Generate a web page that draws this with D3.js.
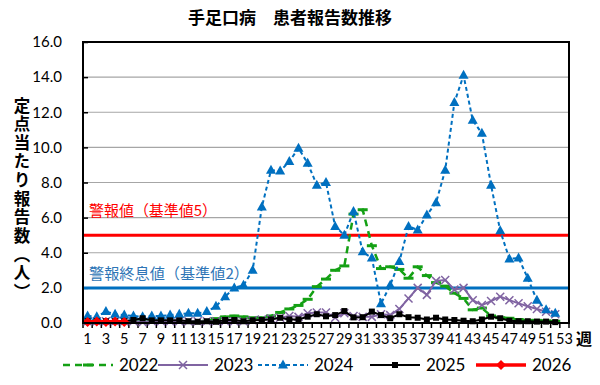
<!DOCTYPE html>
<html>
<head>
<meta charset="utf-8">
<script src="https://cdn.jsdelivr.net/npm/d3@7"></script>
<style>
  body { margin: 0; background: #fff; }
  svg { display: block; }
</style>
</head>
<body>
<svg id="chart" width="600" height="385"></svg>
<script>
// Weekly values (per sentinel site).
var weeks = d3.range(1, 54);
var weekLabels = weeks.filter(function(w) { return w % 2 === 1; });
var yTicks = [0, 2, 4, 6, 8, 10, 12, 14, 16];

var v2022 = [0.05,0.05,0.05,0.05,0.05,0.05,0.05,0.05,0.05,0.05,0.05,0.05,0.08,0.1,0.25,0.35,0.4,0.35,0.3,0.3,
             0.4,0.6,0.8,1.0,1.35,2.07,2.5,3.0,3.25,6.2,6.45,4.4,3.1,3.2,3.05,2.55,3.2,2.7,2.3,2.1,
             1.7,1.4,0.75,0.85,0.4,0.3,0.27,0.2,0.15,0.15,0.12,0.1];
var v2023 = [0.1,0.1,0.1,0.1,0.1,0.1,0.05,0.1,0.1,0.1,0.1,0.1,0.1,0.1,0.1,0.1,0.1,0.1,0.15,0.2,
             0.25,0.3,0.4,0.35,0.55,0.6,0.6,0.3,0.55,0.4,0.35,0.35,0.5,0.45,0.8,1.4,2.0,1.6,2.4,2.45,
             1.9,2.0,1.3,1.02,1.25,1.5,1.3,1.12,0.95,0.8,0.64,0.5];
var v2024 = [0.4,0.35,0.65,0.5,0.45,0.4,0.35,0.4,0.4,0.45,0.5,0.55,0.55,0.65,0.95,1.5,2.0,2.15,3.0,6.6,
             8.7,8.65,9.2,9.95,9.1,7.85,8.0,5.5,5.0,6.35,4.05,3.7,1.1,2.15,3.5,5.5,5.3,6.15,6.85,8.7,
             12.55,14.1,11.55,10.8,7.85,5.25,3.65,3.7,2.55,1.3,0.75,0.55];
var v2025 = [0.1,0.1,0.1,0.1,0.1,0.17,0.27,0.15,0.15,0.15,0.15,0.1,0.07,0.1,0.07,0.17,0.17,0.1,0.15,0.17,
             0.2,0.3,0.2,0.2,0.36,0.5,0.38,0.45,0.68,0.32,0.33,0.65,0.45,0.27,0.5,0.33,0.3,0.2,0.3,0.2,
             0.17,0.13,0.1,0.2,0.36,0.27,0.13,0.1,0.1,0.08,0.08,0.05];
var v2026 = [0.05,0.08,0.06,0.08,0.06];

var alarmLevel = 5;
var endLevel = 2;

var series = [
  { name: '2022', values: v2022, color: '#14a014', width: 2.5, dash: '7,5', marker: 'dash' },
  { name: '2023', values: v2023, color: '#8064a2', width: 2, dash: null, marker: 'cross' },
  { name: '2024', values: v2024, color: '#0070c0', width: 2, dash: '4,3', marker: 'triangle' },
  { name: '2025', values: v2025, color: '#000000', width: 2, dash: null, marker: 'square' },
  { name: '2026', values: v2026, color: '#ff0000', width: 3.5, dash: null, marker: 'diamond' }
];

var numFont = 'Lato, "Noto Sans CJK JP", sans-serif';
var jpFont = '"Noto Sans CJK JP", sans-serif';

var svg = d3.select('#chart');
var plot = { left: 83, right: 569, top: 42, bottom: 323 };

var x = d3.scaleBand().domain(weeks).range([plot.left, plot.right]);
var y = d3.scaleLinear().domain([0, 16]).range([plot.bottom, plot.top]);
function cx(w) { return x(w) + x.bandwidth() / 2; }

// Title
svg.append('text')
  .attr('x', 290).attr('y', 24)
  .attr('text-anchor', 'middle')
  .attr('font-family', jpFont).attr('font-weight', 'bold').attr('font-size', 17)
  .text('手足口病　患者報告数推移');

// Gridlines
svg.append('g').selectAll('line')
  .data(yTicks.filter(function(t) { return t > 0 && t < 16; }))
  .enter().append('line')
    .attr('x1', plot.left).attr('x2', plot.right)
    .attr('y1', function(d) { return y(d); }).attr('y2', function(d) { return y(d); })
    .attr('stroke', '#a6a6a6').attr('stroke-width', 1.2);

// Y axis
var yAxis = svg.append('g')
  .attr('transform', 'translate(' + plot.left + ',0)')
  .call(d3.axisLeft(y).tickValues(yTicks).tickSize(-5).tickPadding(21)
    .tickFormat(d3.format('.1f')));
yAxis.select('.domain').remove();
yAxis.selectAll('line').attr('stroke', '#000').attr('stroke-width', 1.5);
yAxis.selectAll('text').attr('font-family', numFont).attr('font-size', 15).attr('fill', '#000');

// X axis ticks between categories
var xTickPos = weeks.map(function(w) { return x(w); }).concat([plot.right]);
svg.append('g').selectAll('line')
  .data(xTickPos)
  .enter().append('line')
    .attr('x1', function(d) { return d; }).attr('x2', function(d) { return d; })
    .attr('y1', plot.bottom).attr('y2', plot.bottom + 5)
    .attr('stroke', '#000').attr('stroke-width', 1.5);

svg.append('g').selectAll('text')
  .data(weekLabels)
  .enter().append('text')
    .attr('x', function(d) { return cx(d); })
    .attr('y', 344)
    .attr('text-anchor', 'middle')
    .attr('font-family', numFont).attr('font-size', 14.5)
    .text(function(d) { return d; });

svg.append('text')
  .attr('x', 576).attr('y', 345)
  .attr('font-family', jpFont).attr('font-weight', 'bold').attr('font-size', 16)
  .text('週');

// Y axis title, written vertically as one text
svg.append('text')
  .attr('x', 22).attr('y', 97)
  .style('writing-mode', 'vertical-rl')
  .style('text-orientation', 'upright')
  .attr('font-family', jpFont).attr('font-weight', 'bold').attr('font-size', 16.5)
  .attr('textLength', 203).attr('lengthAdjust', 'spacing')
  .text('定点当たり報告数（人）');

// Reference lines
svg.append('line')
  .attr('x1', plot.left).attr('x2', plot.right)
  .attr('y1', y(alarmLevel)).attr('y2', y(alarmLevel))
  .attr('stroke', '#ff0000').attr('stroke-width', 3);
svg.append('line')
  .attr('x1', plot.left).attr('x2', plot.right)
  .attr('y1', y(endLevel)).attr('y2', y(endLevel))
  .attr('stroke', '#0070c0').attr('stroke-width', 3);

svg.append('text')
  .attr('x', 89).attr('y', 216)
  .attr('font-family', jpFont).attr('font-size', 15).attr('fill', '#ff0000')
  .attr('textLength', 128).attr('lengthAdjust', 'spacingAndGlyphs')
  .text('警報値（基準値5）');
svg.append('text')
  .attr('x', 89).attr('y', 279)
  .attr('font-family', jpFont).attr('font-size', 15).attr('fill', '#2e75b6')
  .attr('textLength', 160).attr('lengthAdjust', 'spacingAndGlyphs')
  .text('警報終息値（基準値2）');

// Markers
function drawMarker(g, type, px, py, color) {
  if (type === 'dash') {
    g.append('line').attr('x1', px - 5).attr('x2', px + 5).attr('y1', py).attr('y2', py)
      .attr('stroke', color).attr('stroke-width', 3);
  } else if (type === 'cross') {
    g.append('path').attr('d', 'M' + (px - 4) + ',' + (py - 4) + 'L' + (px + 4) + ',' + (py + 4) +
        'M' + (px - 4) + ',' + (py + 4) + 'L' + (px + 4) + ',' + (py - 4))
      .attr('stroke', color).attr('stroke-width', 1.5).attr('fill', 'none');
  } else if (type === 'triangle') {
    g.append('path').attr('d', 'M' + px + ',' + (py - 5.5) + 'L' + (px + 5) + ',' + (py + 3.5) +
        'L' + (px - 5) + ',' + (py + 3.5) + 'Z')
      .attr('fill', color);
  } else if (type === 'square') {
    g.append('rect').attr('x', px - 3).attr('y', py - 3).attr('width', 6).attr('height', 6)
      .attr('fill', color);
  } else if (type === 'diamond') {
    g.append('path').attr('d', 'M' + px + ',' + (py - 5) + 'L' + (px + 5) + ',' + py +
        'L' + px + ',' + (py + 5) + 'L' + (px - 5) + ',' + py + 'Z')
      .attr('fill', color);
  }
}

var line = d3.line()
  .x(function(d, i) { return cx(i + 1); })
  .y(function(d) { return y(d); });

series.forEach(function(s) {
  var g = svg.append('g');
  g.append('path')
    .attr('d', line(s.values))
    .attr('fill', 'none')
    .attr('stroke', s.color)
    .attr('stroke-width', s.width)
    .attr('stroke-dasharray', s.dash);
  s.values.forEach(function(v, i) {
    drawMarker(g, s.marker, cx(i + 1), y(v), s.color);
  });
});

// Plot frame
svg.append('rect')
  .attr('x', plot.left).attr('y', plot.top)
  .attr('width', plot.right - plot.left).attr('height', plot.bottom - plot.top)
  .attr('fill', 'none').attr('stroke', '#000').attr('stroke-width', 2);

// Legend
var legendX = [63, 158, 258, 370, 476];
var legendY = 365;
series.forEach(function(s, i) {
  var g = svg.append('g');
  var x0 = legendX[i], x1 = x0 + 50;
  g.append('line')
    .attr('x1', x0).attr('x2', x1).attr('y1', legendY).attr('y2', legendY)
    .attr('stroke', s.color).attr('stroke-width', s.width)
    .attr('stroke-dasharray', s.dash);
  drawMarker(g, s.marker, (x0 + x1) / 2, legendY, s.color);
  g.append('text')
    .attr('x', x1 + 6).attr('y', legendY)
    .attr('dy', '0.36em')
    .attr('font-family', numFont).attr('font-size', 17)
    .text(s.name);
});
</script>
</body>
</html>
